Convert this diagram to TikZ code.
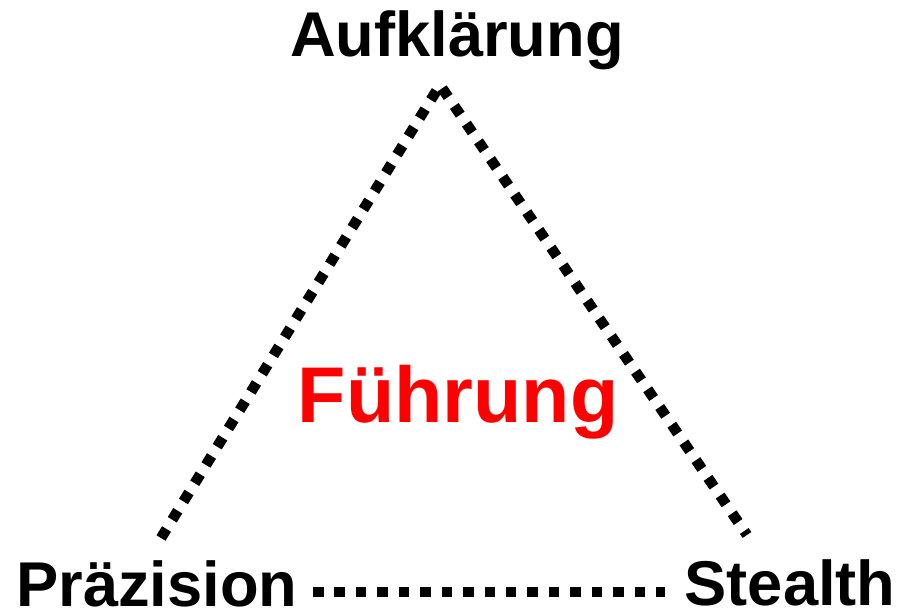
\documentclass[tikz,border=0pt]{standalone}
\usepackage{fontspec}
\setmainfont{Liberation Sans}
\usepackage{xcolor}
\usetikzlibrary{positioning}
\definecolor{leadred}{HTML}{FF0000}

\begin{document}
\begin{tikzpicture}[
  corner/.style={font=\fontsize{36}{40}\selectfont\bfseries, inner sep=0pt},
  centre/.style={font=\fontsize{45}{52}\selectfont\bfseries, text=leadred, inner sep=0pt},
  dotline/.style={line width=6pt, dash pattern=on 6pt off 6.2pt, line cap=butt}
]
  \useasboundingbox (0,0) rectangle (17.94,12.28);

  % Corner labels
  \node[corner, anchor=base] (aufklaerung) at (9.14,11.14) {Aufklärung};
  \node[corner, anchor=base west] (praezision) at (0.32,0.14) {Präzision};
  \node[corner, anchor=base east] (stealth) at (17.92,0.16) {Stealth};

  % Centre label
  \node[centre, anchor=base] (fuehrung) at (9.16,3.82) {Führung};

  % Triangle corners
  \coordinate (tip) at (8.80,10.58);
  \coordinate (leftfoot) at (3.22,1.52);
  \coordinate (rightfoot) at (14.94,1.58);
  \coordinate (baseleft) at (6.26,0.44);
  \coordinate (baseright) at (13.30,0.44);

  % Dotted sides
  \draw[dotline] (leftfoot) -- (tip) -- (rightfoot);
  \draw[dotline] (baseleft) -- (baseright);
\end{tikzpicture}
\end{document}
